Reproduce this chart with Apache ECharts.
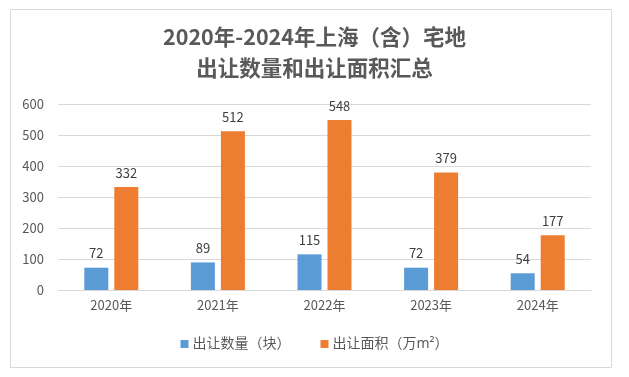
<!DOCTYPE html>
<html><head><meta charset="utf-8">
<script src="https://cdn.jsdelivr.net/npm/echarts@6/dist/echarts.min.js"></script>
<style>html,body{margin:0;padding:0;background:#fff}#c{width:629px;height:377px}</style>
</head><body><div id="c"></div>
<script>
const categories = ['2020年','2021年','2022年','2023年','2024年'];
const countValues = [72, 89, 115, 72, 54];
const areaValues = [332, 512, 548, 379, 177];
const seriesNames = ['出让数量（块）','出让面积（万m²）'];
const titleText = '2020年-2024年上海（含）宅地\n出让数量和出让面积汇总';

const chart = echarts.init(document.getElementById('c'), null, {renderer:'canvas'});
const font = '"Noto Sans CJK SC", "Microsoft YaHei", sans-serif';
const legendFont = '"Noto Sans", "Noto Sans CJK SC", sans-serif';
chart.setOption({
  backgroundColor: '#fff',
  animation: false,
  graphic: [{type:'rect', shape:{x:10.5,y:9.5,width:601,height:358}, style:{fill:'none', stroke:'#d9d9d9', lineWidth:1}, z:-1}],
  title: {
    text: titleText, left: 'center', top: 16,
    textStyle: {fontFamily: font, fontSize: 21.5, fontWeight: 'bold', color: '#595959', lineHeight: 31}
  },
  legend: {
    bottom: 21, left: 'center', itemWidth: 8, itemHeight: 8, itemGap: 30,
    icon: 'rect',
    textStyle: {fontFamily: legendFont, fontSize: 14, color: '#595959', padding: [0,0,0,-1]},
    data: seriesNames
  },
  grid: {left: 58, right: 38, top: 104, bottom: 87, containLabel: false},
  xAxis: {
    type: 'category', data: categories,
    axisLine: {lineStyle: {color: '#d9d9d9'}},
    axisTick: {show: false},
    axisLabel: {fontFamily: font, fontSize: 13, color: '#595959', margin: 9}
  },
  yAxis: {
    type: 'value', min: 0, max: 600, interval: 100,
    axisLine: {show: false}, axisTick: {show: false},
    splitLine: {lineStyle: {color: '#d9d9d9'}},
    axisLabel: {fontFamily: font, fontSize: 13, color: '#595959', margin: 14}
  },
  series: [
    {name: seriesNames[0], type: 'bar', data: countValues, barWidth: 24, barGap: '25%',
     itemStyle: {color: '#5B9BD5'},
     label: {show: true, position: 'top', distance: 8, fontFamily: font, fontSize: 13, color: '#404040'}},
    {name: seriesNames[1], type: 'bar', data: areaValues, barWidth: 24,
     itemStyle: {color: '#ED7D31'},
     label: {show: true, position: 'top', distance: 8, fontFamily: font, fontSize: 13, color: '#404040'}}
  ]
});
</script></body></html>
